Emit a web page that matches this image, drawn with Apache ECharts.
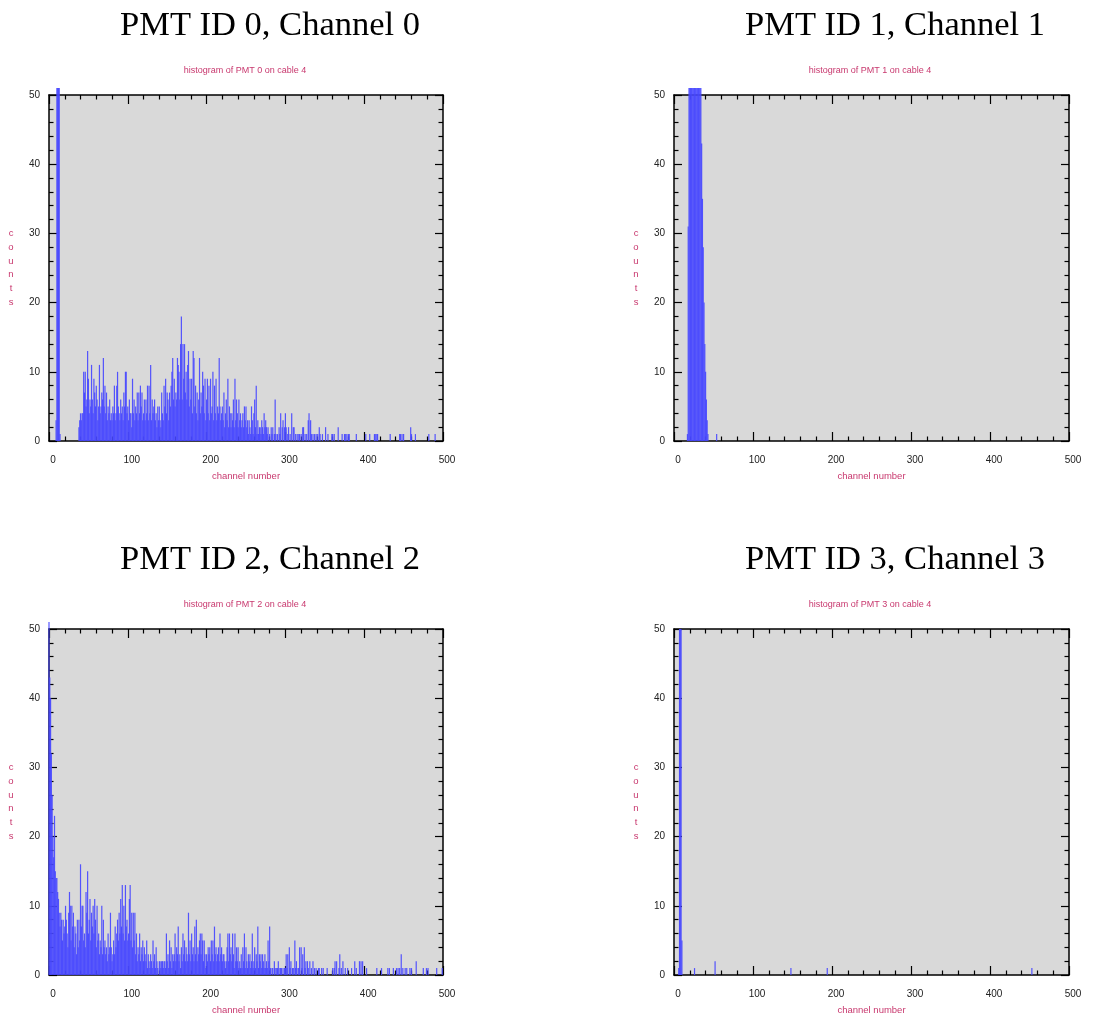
<!DOCTYPE html>
<html><head><meta charset="utf-8">
<script src="https://cdn.jsdelivr.net/npm/echarts@6/dist/echarts.min.js"></script>
<style>html,body{margin:0;padding:0;background:#fff}#c{width:1102px;height:1017px}</style>
</head><body><div id="c"></div>
<script>
// ---------------- data ----------------
const panelTitles = ['PMT ID 0, Channel 0','PMT ID 1, Channel 1','PMT ID 2, Channel 2','PMT ID 3, Channel 3'];
const panelSubtitles = ['histogram of PMT 0 on cable 4','histogram of PMT 1 on cable 4','histogram of PMT 2 on cable 4','histogram of PMT 3 on cable 4'];
const xAxisName = 'channel number';
const yAxisName = 'counts';
const xRange = [0, 500], xStep = 100;
const yRange = [0, 50], yStep = 10;

// PMT 0: counts per channel, channels 0..349
const pmt0Counts = [
 0,0,0,0,0,0,0,0,0,3,
 51,51,51,51,1,0,0,0,0,0,
 0,0,0,0,0,0,0,0,0,0,
 0,0,0,0,0,0,0,0,2,3,
 4,3,4,4,10,7,10,5,6,13,
 9,4,6,5,11,6,4,9,7,5,
 8,6,3,5,11,4,5,7,6,12,
 5,8,4,7,3,5,4,6,3,4,
 3,5,4,8,3,4,8,10,5,4,
 3,6,4,5,3,7,5,10,10,4,
 5,3,6,4,4,2,9,4,6,3,
 5,4,7,3,7,4,8,5,7,3,
 4,6,3,6,4,8,3,8,4,11,
 3,6,4,5,6,3,4,2,5,3,
 5,3,2,7,4,3,8,5,9,4,
 7,6,3,7,5,8,10,12,6,9,
 5,7,6,12,11,10,6,14,18,6,
 14,9,14,7,10,6,11,13,5,9,
 6,9,4,13,12,5,8,4,7,3,
 6,12,4,7,5,10,8,4,9,3,
 6,9,4,8,3,9,4,5,10,3,
 8,4,9,3,5,4,12,5,3,4,
 5,3,7,2,4,6,3,9,2,5,
 4,2,4,3,6,2,9,3,6,4,
 2,6,3,4,2,3,4,2,5,3,
 5,2,3,1,3,2,1,5,3,1,
 4,6,2,8,1,3,1,2,2,1,
 3,2,1,4,2,3,2,1,2,0,
 1,0,2,1,2,0,1,6,1,0,
 1,0,2,1,4,0,2,3,0,2,
 4,2,0,1,2,0,1,0,4,0,
 2,2,0,1,0,1,0,1,1,0,
 1,0,2,2,0,1,0,1,0,3,
 4,0,3,1,0,1,0,1,0,1,
 0,1,0,2,1,0,0,1,0,0
];
// PMT 0: sparse tail [channel, counts]
const pmt0Tail = [[351,2],[354,1],[359,1],[360,1],[362,1],[367,2],[372,1],[375,1],[376,1],[378,1],[380,1],[381,1],[390,1],[402,1],[407,1],[413,1],[414,1],[416,1],[417,1],[433,1],[445,1],[446,1],[448,1],[450,1],[459,2],[460,1],[465,1],[482,1],[490,1]];

// PMT 1: [channel, counts]
const pmt1Counts = [[17,1],[18,31],[19,51],[20,51],[21,51],[22,51],[23,51],[24,51],[25,51],[26,51],[27,51],[28,51],[29,51],[30,51],[31,51],[32,51],[33,51],[34,51],[35,43],[36,35],[37,28],[38,20],[39,14],[40,10],[41,6],[42,3],[43,1],[54,1]];

// PMT 2: counts per channel, channels 0..399
const pmt2Counts = [
 51,43,40,32,26,20,17,23,15,14,
 14,12,11,9,7,9,8,5,8,6,
 7,10,8,6,4,9,12,10,5,10,
 7,9,4,7,6,3,8,4,8,5,
 16,7,10,10,5,6,4,12,9,15,
 6,8,11,5,9,7,10,6,11,8,
 4,10,5,6,3,5,4,10,3,8,
 4,5,3,4,2,6,3,4,9,4,
 2,3,5,3,7,4,6,8,5,9,
 6,11,7,13,6,10,5,13,7,8,
 5,6,11,13,5,9,4,9,5,9,
 3,6,2,4,3,6,2,4,3,5,
 2,4,3,2,5,1,3,2,1,3,
 2,1,5,2,3,1,4,2,1,0,
 2,2,1,2,2,1,2,2,1,6,
 2,3,1,5,2,4,1,3,2,3,
 6,2,4,3,7,2,3,1,4,2,
 6,3,5,2,4,3,2,9,3,5,
 2,6,3,4,2,7,3,8,2,4,
 3,5,6,3,6,5,2,5,3,1,
 3,2,4,3,4,2,5,3,5,2,
 7,3,4,2,3,4,2,6,3,4,
 2,3,3,2,1,2,4,6,2,6,
 3,4,2,6,3,1,6,2,4,2,
 4,1,2,1,3,1,4,2,6,1,
 4,2,1,3,2,3,1,2,6,1,
 2,4,1,3,2,7,1,3,2,3,
 1,3,2,1,3,1,2,1,5,2,
 7,1,0,1,1,0,2,1,0,1,
 1,2,0,1,1,1,0,1,0,1,
 1,3,1,3,0,4,1,2,0,1,
 1,0,5,1,2,0,1,1,4,0,
 4,1,3,0,4,1,2,0,2,1,
 0,2,0,1,0,2,0,1,0,1,
 0,0,1,1,0,0,1,0,1,0,
 0,0,0,1,0,0,0,0,0,0,
 1,0,1,2,0,2,0,0,1,3,
 0,1,0,2,0,0,1,0,0,1,
 0,0,0,0,1,0,0,0,2,0,
 1,0,0,0,2,0,2,0,2,0
];
const pmt2Tail = [[403,1],[416,1],[422,1],[430,1],[432,1],[437,1],[441,1],[443,1],[445,1],[447,3],[449,1],[452,1],[454,1],[458,1],[460,1],[466,2],[475,1],[479,1],[481,1],[492,1],[499,1]];

// PMT 3: [channel, counts]
const pmt3Counts = [[6,1],[7,50],[8,50],[9,50],[10,5],[26,1],[52,2],[148,1],[194,1],[453,1]];

// ---------------- build ----------------
function denseToPairs(arr) {
  const out = [];
  arr.forEach((v, i) => { if (v > 0) out.push([i, v]); });
  return out;
}
const panelData = [
  denseToPairs(pmt0Counts).concat(pmt0Tail),
  pmt1Counts,
  denseToPairs(pmt2Counts).concat(pmt2Tail),
  pmt3Counts
];

const PINK = '#c8386e';
const BAR = 'rgba(72,72,255,0.92)';
const grids = [
  {left: 49, top: 95, width: 394, height: 346},
  {left: 674, top: 95, width: 395, height: 346},
  {left: 49, top: 629, width: 394, height: 346},
  {left: 674, top: 629, width: 395, height: 346}
];

const xAxes = [], yAxes = [];
grids.forEach((g, i) => {
  ['bottom', 'top'].forEach(pos => {
    const main = pos === 'bottom';
    xAxes.push({
      type: 'value', gridIndex: i, position: pos,
      min: xRange[0], max: xRange[1], interval: xStep,
      axisLine: {show: true, onZero: false, lineStyle: {color: '#000', width: 1.5}},
      axisTick: {show: true, inside: true, length: 9, lineStyle: {color: '#000', width: 1.2}},
      minorTick: {show: true, splitNumber: 5, length: 4.5, lineStyle: {color: '#000', width: 1.2}},
      splitLine: {show: false}, minorSplitLine: {show: false},
      axisLabel: {show: main, margin: 14, color: '#222', fontSize: 10, fontFamily: 'Liberation Sans', padding: [0, 0, 0, 8]},
      name: main ? xAxisName : '', nameLocation: 'middle', nameGap: 30,
      nameTextStyle: {color: PINK, fontSize: 9.5, fontFamily: 'Liberation Sans'}
    });
  });
  ['left', 'right'].forEach(pos => {
    const main = pos === 'left';
    yAxes.push({
      type: 'value', gridIndex: i, position: pos,
      min: yRange[0], max: yRange[1], interval: yStep,
      axisLine: {show: true, onZero: false, lineStyle: {color: '#000', width: 1.5}},
      axisTick: {show: true, inside: true, length: 8, lineStyle: {color: '#000', width: 1.2}},
      minorTick: {show: true, splitNumber: 5, length: 4.5, lineStyle: {color: '#000', width: 1.2}},
      splitLine: {show: false}, minorSplitLine: {show: false},
      axisLabel: {show: main, margin: 9, color: '#222', fontSize: 10, fontFamily: 'Liberation Sans'},
      name: main ? yAxisName.split('').join('\n') : '', nameLocation: 'middle', nameGap: 38, nameRotate: 0,
      nameTextStyle: {color: PINK, fontSize: 9.5, fontFamily: 'Liberation Sans', lineHeight: 13.7, align: 'center', verticalAlign: 'middle'}
    });
  });
});

const titleCenters = [265, 890, 265, 890];
const titleTops = [3, 3, 537, 537];
const subCenters = [240, 865, 240, 865];
const subTops = [61, 61, 595, 595];

const titles = [];
panelTitles.forEach((t, i) => titles.push({
  text: t, left: titleCenters[i], top: titleTops[i], textAlign: 'center',
  textStyle: {fontFamily: 'Liberation Serif', fontSize: 34.5, fontWeight: 'normal', color: '#000'}
}));
panelSubtitles.forEach((t, i) => titles.push({
  text: t, left: subCenters[i], top: subTops[i], textAlign: 'center',
  textStyle: {fontFamily: 'Liberation Sans', fontSize: 9, fontWeight: 'normal', color: PINK}
}));

const chart = echarts.init(document.getElementById('c'), null, {renderer: 'canvas'});
chart.setOption({
  animation: false,
  backgroundColor: '#fff',
  title: titles,
  grid: grids.map(g => Object.assign({show: true, backgroundColor: '#d9d9d9', borderWidth: 0, containLabel: false}, g)),
  xAxis: xAxes,
  yAxis: yAxes,
  series: panelData.map((d, i) => ({
    type: 'bar', xAxisIndex: i * 2, yAxisIndex: i * 2,
    data: d, barWidth: 1.2, clip: false, silent: true,
    itemStyle: {color: BAR}
  }))
});
</script>
</body></html>
